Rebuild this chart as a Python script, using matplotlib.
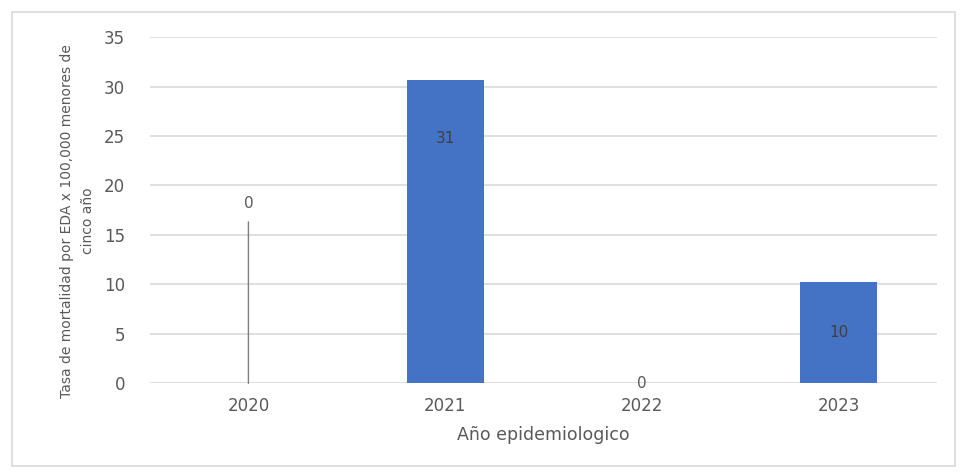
import matplotlib
matplotlib.use("Agg")
import matplotlib.pyplot as plt
from matplotlib.patches import Rectangle

years = ["2020", "2021", "2022", "2023"]
values = [0, 30.7, 0, 10.2]
label_texts = ["0", "31", "0", "10"]
yticks = [0, 5, 10, 15, 20, 25, 30, 35]

BLUE = "#4472C4"
GRAY = "#595959"

fig = plt.figure(figsize=(9.68, 4.75), dpi=100)
fig.patches.append(Rectangle((0.012, 0.02), 0.975, 0.955, transform=fig.transFigure,
                             fill=False, edgecolor="#d9d9d9", linewidth=1.2))
ax = fig.add_axes([0.155, 0.193, 0.813, 0.729])
x = list(range(len(years)))
ax.bar(x, values, width=0.39, color=BLUE, zorder=3)
ax.set_ylim(0, 35)
ax.set_xlim(-0.5, len(years) - 0.5)
ax.set_yticks(yticks)
ax.set_xticks(x)
ax.set_xticklabels(years)
ax.grid(axis="y", color="#d9d9d9", linewidth=1.2, zorder=0)
for s in ax.spines.values():
    s.set_visible(False)
ax.tick_params(length=0, labelsize=12, colors=GRAY, pad=10)
ax.tick_params(axis="y", pad=18)
ax.set_xlabel("Año epidemiologico", fontsize=12.5, color=GRAY, labelpad=8)
ax.set_ylabel("Tasa de mortalidad por EDA x 100,000 menores de\ncinco año",
              fontsize=10, color=GRAY, linespacing=1.6)
ax.yaxis.set_label_coords(-0.07, 0.47)

# data labels
for i, (v, t) in enumerate(zip(values, label_texts)):
    if i == 0:
        ax.annotate(t, xy=(i, v), xytext=(i, 18.2), ha="center", va="center",
                    fontsize=11, color=GRAY,
                    arrowprops=dict(arrowstyle="-", color="#7f7f7f", lw=1,
                                    shrinkA=6, shrinkB=0))
    elif v > 0:
        ax.text(i, max(v / 2, v - 6), t, ha="center", va="center",
                fontsize=11, color="#404040", zorder=4)
    else:
        ax.text(i, v, t, ha="center", va="center", fontsize=11, color=GRAY, zorder=4)

fig.savefig("out.png", dpi=100)
